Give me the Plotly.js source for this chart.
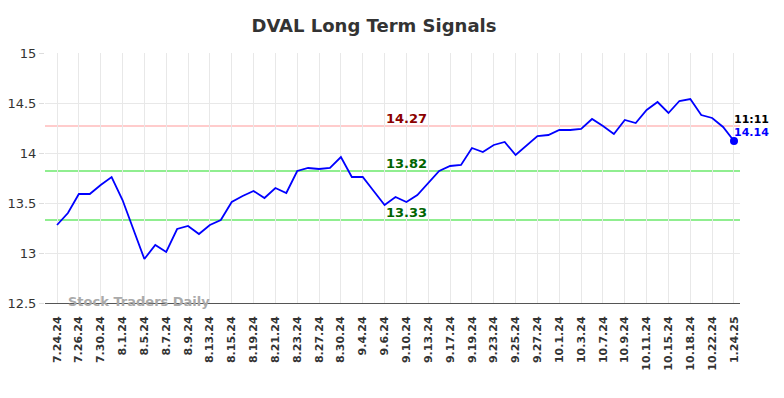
<!DOCTYPE html>
<html>
<head>
<meta charset="utf-8">
<script src="https://cdn.plot.ly/plotly-3.0.1.min.js"></script>
<style>html,body{margin:0;padding:0;background:#fff;}#chart{width:784px;height:398px;}</style>
</head>
<body>
<div id="chart"></div>
<script>
var tickLabels = ["7.24.24","7.26.24","7.30.24","8.1.24","8.5.24","8.7.24","8.9.24","8.13.24","8.15.24","8.19.24","8.21.24","8.23.24","8.27.24","8.30.24","9.4.24","9.6.24","9.10.24","9.13.24","9.17.24","9.19.24","9.23.24","9.25.24","9.27.24","10.1.24","10.3.24","10.7.24","10.9.24","10.11.24","10.15.24","10.18.24","10.22.24","1.24.25"];
var prices = [13.28,13.40,13.59,13.59,13.68,13.76,13.53,13.23,12.94,13.08,13.01,13.24,13.27,13.19,13.28,13.33,13.51,13.57,13.62,13.55,13.65,13.60,13.82,13.85,13.84,13.85,13.96,13.76,13.76,13.62,13.48,13.56,13.51,13.58,13.70,13.82,13.87,13.88,14.05,14.01,14.08,14.11,13.98,14.08,14.17,14.18,14.23,14.23,14.24,14.34,14.27,14.19,14.33,14.30,14.43,14.51,14.40,14.52,14.54,14.38,14.35,14.26,14.12];
var resistance = 14.27;
var supportHigh = 13.82;
var supportLow = 13.33;
var lastTime = "11:11";
var lastPriceLabel = "14.14";

var xs = prices.map(function(_, i){ return i; });
var tickVals = tickLabels.map(function(_, i){ return i * 2; });
var lastIdx = xs.length - 1;

var traces = [
  {x: xs, y: prices, type: 'scatter', mode: 'lines', line: {color: '#0000ff', width: 1.8}, hoverinfo: 'skip'},
  {x: [xs[lastIdx]], y: [prices[lastIdx]], type: 'scatter', mode: 'markers', marker: {color: '#0000ff', size: 8}, hoverinfo: 'skip'}
];

function hline(y, color) {
  return {type: 'line', xref: 'paper', x0: 0, x1: 1, yref: 'y', y0: y, y1: y, line: {color: color, width: 2}, layer: 'below'};
}

var layout = {
  width: 784, height: 398,
  margin: {l: 45, r: 44, t: 53, b: 95},
  paper_bgcolor: '#ffffff', plot_bgcolor: '#ffffff',
  showlegend: false,
  font: {family: 'DejaVu Sans, sans-serif', color: '#333333'},
  title: {text: '<b>DVAL Long Term Signals</b>', x: 0.477, xanchor: 'center', y: 0.935, yanchor: 'middle', font: {size: 18, color: '#333333', family: 'DejaVu Sans, sans-serif'}},
  xaxis: {
    range: [-1.1, 62.55],
    tickmode: 'array', tickvals: tickVals, ticktext: tickLabels,
    tickangle: -90,
    ticklabelstandoff: 8,
    tickfont: {size: 11, color: '#333333', family: 'DejaVu Sans, sans-serif', weight: 'bold'},
    showgrid: true, gridcolor: '#e8e8e8', gridwidth: 1,
    zeroline: false,
    showline: true, linecolor: '#555555', linewidth: 1,
    ticks: '', fixedrange: true
  },
  yaxis: {
    range: [12.5, 15],
    tickvals: [12.5, 13, 13.5, 14, 14.5, 15],
    ticktext: ['12.5', '13', '13.5', '14', '14.5', '15'],
    tickfont: {size: 13, color: '#333333', family: 'DejaVu Sans, sans-serif'},
    showgrid: true, gridcolor: '#e8e8e8', gridwidth: 1,
    zeroline: false, showline: false,
    ticks: 'outside', ticklen: 5, tickcolor: '#dddddd',
    fixedrange: true
  },
  shapes: [
    hline(resistance, '#ffcccc'),
    hline(supportHigh, '#90ee90'),
    hline(supportLow, '#90ee90')
  ],
  annotations: [
    {x: 32, y: resistance, xref: 'x', yref: 'y', text: '<b>' + resistance.toFixed(2) + '</b>', showarrow: false, yanchor: 'bottom', yshift: -2, font: {size: 13, color: '#8b0000'}},
    {x: 32, y: supportHigh, xref: 'x', yref: 'y', text: '<b>' + supportHigh.toFixed(2) + '</b>', showarrow: false, yanchor: 'bottom', yshift: -2, font: {size: 13, color: '#006400'}},
    {x: 32, y: supportLow, xref: 'x', yref: 'y', text: '<b>' + supportLow.toFixed(2) + '</b>', showarrow: false, yanchor: 'bottom', yshift: -2, font: {size: 13, color: '#006400'}},
    {x: lastIdx, y: prices[lastIdx], xref: 'x', yref: 'y', text: '<b>' + lastTime + '</b>', showarrow: false, xanchor: 'left', xshift: -2, yshift: 22, font: {size: 11, color: '#000000'}},
    {x: lastIdx, y: prices[lastIdx], xref: 'x', yref: 'y', text: '<b>' + lastPriceLabel + '</b>', showarrow: false, xanchor: 'left', xshift: -2, yshift: 9, font: {size: 11, color: '#0000ff'}},
    {x: 0.03, y: 12.5, xref: 'paper', yref: 'y', text: '<b>Stock Traders Daily</b>', showarrow: false, xanchor: 'left', yanchor: 'middle', yshift: 2, font: {size: 13, color: '#aaaaaa'}}
  ]
};

Plotly.newPlot('chart', traces, layout, {displayModeBar: false, staticPlot: true});
</script>
</body>
</html>
